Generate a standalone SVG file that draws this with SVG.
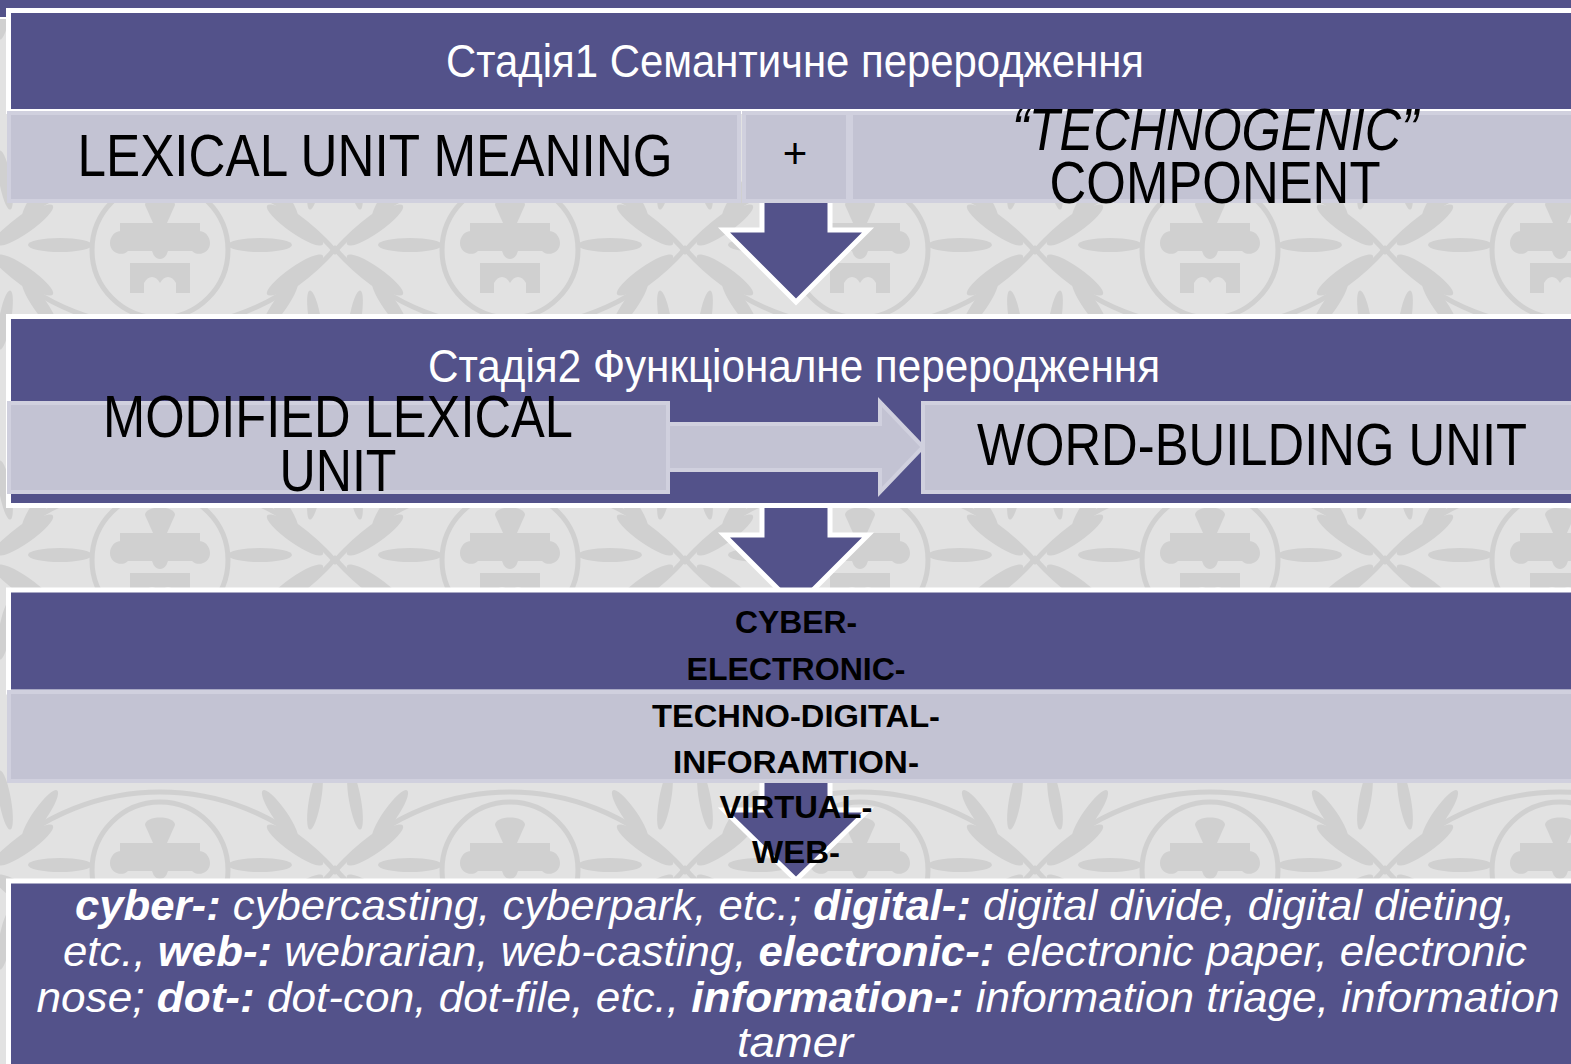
<svg xmlns="http://www.w3.org/2000/svg" width="1571" height="1064" viewBox="0 0 1571 1064">
<defs>
<style>
.pur{fill:#53528A}
.box{fill:#53528A;stroke:#FFFFFF;stroke-width:5}
.band{fill:#C3C3D3;stroke:#D0D0DE;stroke-width:4}
.wline{fill:none;stroke:#FFFFFF;stroke-width:5;stroke-linejoin:miter}
.orn{fill:none;stroke:#D0D0D0;stroke-width:5}
.ornf{fill:#D0D0D0}
.t{font-family:"Liberation Sans",Arial,sans-serif;text-anchor:middle}
.big{font-size:60px;fill:#000}
.ttl{font-size:46px;fill:#FFFFFF}
.pre{font-size:31px;font-weight:bold;fill:#000}
.par{font-size:43px;font-style:italic;fill:#FFFFFF}
.b{font-weight:bold}
</style>
<pattern id="damask" patternUnits="userSpaceOnUse" x="-15" y="95" width="350" height="310">
<rect width="350" height="310" fill="#E2E2E2"/>
<circle class="orn" cx="175" cy="155" r="68"/>
<circle class="orn" cx="175" cy="0" r="233"/>
<circle class="orn" cx="175" cy="310" r="233"/>
<g class="ornf">
<ellipse cx="175" cy="150" rx="9" ry="14"/>
<path d="M135,128 h80 v14 h-12 c10,-12 22,-4 22,6 c0,10 -12,14 -18,8 h-64 c-6,6 -18,2 -18,-8 c0,-10 12,-18 22,-6 h-12z"/>
<path d="M160,110 c0,-10 30,-10 30,0 l-8,18 h-14z"/>
<path d="M145,168 h60 v30 h-14 v-10 c-4,-8 -12,-8 -16,0 c-4,-8 -12,-8 -16,0 v10 h-14z"/>
</g>
<g class="ornf">
<g id="leafs">
<ellipse cx="40" cy="130" rx="34" ry="8" transform="rotate(-35 40 130)"/>
<ellipse cx="55" cy="100" rx="30" ry="7" transform="rotate(-55 55 100)"/>
<ellipse cx="40" cy="180" rx="34" ry="8" transform="rotate(35 40 180)"/>
<ellipse cx="55" cy="210" rx="30" ry="7" transform="rotate(55 55 210)"/>
<ellipse cx="75" cy="150" rx="32" ry="7"/>
<ellipse cx="20" cy="85" rx="6" ry="30" transform="rotate(-10 20 85)"/>
<ellipse cx="20" cy="225" rx="6" ry="30" transform="rotate(10 20 225)"/>
</g>
<use href="#leafs" transform="matrix(-1 0 0 1 350 0)"/>
<use href="#leafs" transform="matrix(-1 0 0 1 0 0)"/>
<use href="#leafs" transform="translate(350 0)"/>
</g>
</pattern>
</defs>

<rect width="1571" height="1064" fill="url(#damask)"/>
<rect x="0" y="0" width="1571" height="8" class="pur"/>
<rect x="0" y="0" width="6" height="17" class="pur"/>
<rect x="0" y="17" width="6" height="2" fill="#FFFFFF"/>

<g id="connectors">
<g id="arrow1">
<path class="pur" d="M762,195 H830 V230 H868 L796,302 L724,230 H762 Z"/>
<path class="wline" d="M762,195 V230 H724 L796,302 L868,230 H830 V195"/>
</g>
<g id="arrow2">
<path class="pur" d="M762,500 H830 V535 H868 L796,607 L724,535 H762 Z"/>
<path class="wline" d="M762,508 V535 H724 L796,607 L868,535 H830 V508"/>
</g>
<g id="arrow3">
<path class="pur" d="M762,775 H830 V810 H868 L796,880 L724,810 H762 Z"/>
<path class="wline" d="M762,775 V810 H724 L796,880 L868,810 H830 V775"/>
</g>
</g>

<g id="stage1">
<rect class="box" x="8.5" y="10.5" width="1570" height="101"/>
<text class="t ttl" x="795" y="77" textLength="698" lengthAdjust="spacingAndGlyphs">Стадія1 Семантичне переродження</text>
</g>
<g id="lexical-unit-meaning">
<rect class="band" x="9" y="113" width="730" height="88"/>
<text class="t big" x="375" y="176" textLength="595" lengthAdjust="spacingAndGlyphs">LEXICAL UNIT MEANING</text>
</g>
<g id="plus">
<rect class="band" x="744" y="113" width="104" height="88"/>
<text class="t" x="795" y="168" font-size="42" fill="#000">+</text>
</g>
<g id="technogenic-component">
<rect class="band" x="851" y="113" width="726" height="88"/>
<text class="t big" x="1215" y="150" font-style="italic" textLength="406" lengthAdjust="spacingAndGlyphs">“TECHNOGENIC”</text>
<text class="t big" x="1215" y="203" textLength="331" lengthAdjust="spacingAndGlyphs">COMPONENT</text>
</g>

<g id="stage2">
<rect class="box" x="8.5" y="316.5" width="1570" height="189"/>
<text class="t ttl" x="794" y="382" textLength="732" lengthAdjust="spacingAndGlyphs">Стадія2 Функціоналне переродження</text>
</g>
<g id="modified-lexical-unit">
<rect class="band" x="9" y="403" width="659" height="89"/>
<text class="t big" x="338" y="437" textLength="470" lengthAdjust="spacingAndGlyphs">MODIFIED LEXICAL</text>
<text class="t big" x="338" y="491" textLength="117" lengthAdjust="spacingAndGlyphs">UNIT</text>
</g>
<g id="right-arrow">
<path class="band" d="M668,424 H880 V402 L923,447 L880,492 V470 H668 Z"/>
</g>
<g id="word-building-unit">
<rect class="band" x="923" y="403" width="660" height="89"/>
<text class="t big" x="1252" y="465" textLength="550" lengthAdjust="spacingAndGlyphs">WORD-BUILDING UNIT</text>
</g>

<g id="stage3">
<rect class="box" x="8.5" y="590" width="1570" height="102"/>
<rect class="band" x="9" y="692" width="1570" height="89"/>
</g>

<g id="stage4">
<rect class="box" x="8.5" y="881" width="1570" height="200"/>
<text class="t par" x="795" y="920" textLength="1440" lengthAdjust="spacingAndGlyphs"><tspan class="b">cyber-:</tspan> cybercasting, cyberpark, etc.; <tspan class="b">digital-:</tspan> digital divide, digital dieting,</text>
<text class="t par" x="795" y="966" textLength="1464" lengthAdjust="spacingAndGlyphs">etc., <tspan class="b">web-:</tspan> webrarian, web-casting, <tspan class="b">electronic-:</tspan> electronic paper, electronic</text>
<text class="t par" x="798" y="1012" textLength="1523" lengthAdjust="spacingAndGlyphs">nose; <tspan class="b">dot-:</tspan> dot-con, dot-file, etc., <tspan class="b">information-:</tspan> information triage, information</text>
<text class="t par" x="795" y="1057" textLength="116" lengthAdjust="spacingAndGlyphs">tamer</text>
</g>

<g id="prefixes">
<text class="t pre" x="796" y="633" textLength="122" lengthAdjust="spacingAndGlyphs">CYBER-</text>
<text class="t pre" x="796" y="680" textLength="219" lengthAdjust="spacingAndGlyphs">ELECTRONIC-</text>
<text class="t pre" x="796" y="727" textLength="288" lengthAdjust="spacingAndGlyphs">TECHNO-DIGITAL-</text>
<text class="t pre" x="796" y="773" textLength="246" lengthAdjust="spacingAndGlyphs">INFORAMTION-</text>
<text class="t pre" x="796" y="818" textLength="153" lengthAdjust="spacingAndGlyphs">VIRTUAL-</text>
<text class="t pre" x="796" y="863" textLength="88" lengthAdjust="spacingAndGlyphs">WEB-</text>
</g>
</svg>
